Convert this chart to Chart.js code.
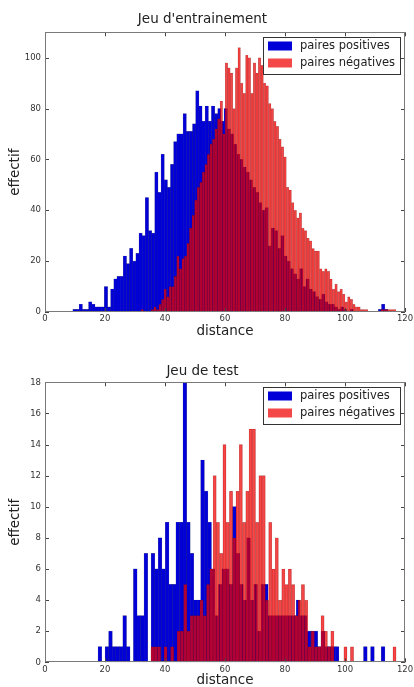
<!DOCTYPE html>
<html>
<head>
<meta charset="utf-8">
<script src="https://cdn.jsdelivr.net/npm/chart.js@4.4.1/dist/chart.umd.min.js"></script>
<style>
  html, body { margin: 0; padding: 0; background: #fff; }
  .box { position: absolute; left: 0; width: 414px; }
  #trainBox { top: 0; height: 340px; }
  #testBox { top: 340px; height: 347px; }
</style>
</head>
<body>
<div class="box" id="trainBox"><canvas id="train"></canvas></div>
<div class="box" id="testBox"><canvas id="test"></canvas></div>
<script>
// --- data (counts per bin) ---
var seriesLabels = ["paires positives", "paires négatives"];
var xTicks = [0, 20, 40, 60, 80, 100, 120];

// training set: 100 bins each
var trainPosStart = 9.3, trainPosWidth = 1.05;
var trainPosCounts = [1,1,3,1,1,4,3,2,2,2,
  10,2,9,13,14,14,22,19,25,20,
  23,31,30,45,32,31,55,47,62,52,
  49,58,67,70,70,78,71,71,74,87,
  81,75,81,75,81,78,80,75,80,72,
  70,66,62,60,57,55,52,49,47,43,
  40,41,26,33,32,25,30,22,20,17,
  15,13,17,10,13,9,8,6,5,7,
  4,3,3,2,1,2,1,0,1,0,
  0,0,0,0,0,0,0,1,3,1];
var trainNegStart = 32.0, trainNegWidth = 0.85;
var trainNegCounts = [1,0,0,0,1,2,1,3,5,9,
  6,10,10,14,22,17,21,22,27,33,
  38,44,49,51,55,58,62,66,68,72,
  76,83,70,98,96,94,80,96,104,90,
  86,101,100,86,98,94,100,97,90,89,
  82,80,75,73,68,65,61,49,48,43,
  40,37,39,33,32,29,28,25,24,24,
  17,16,17,16,13,9,11,8,9,7,
  4,6,5,3,2,2,1,1,1,0,
  0,0,0,0,1,1,1,1,1,1];

// test set
var testPosStart = 17.7, testPosWidth = 1.18;
var testPosCounts = [1,0,1,2,1,1,1,3,1,0,
  6,3,3,7,0,7,6,8,6,9,
  5,5,9,9,18,9,7,4,4,13,
  11,9,6,3,5,6,6,5,10,7,
  5,4,8,4,5,2,5,5,3,3,
  3,3,3,3,3,3,4,3,3,2,
  2,2,1,2,1,1,1,1,0,0,
  0,0,0,0,0,1,0,1,0,0,
  1,0];
var testNegStart = 35.3, testNegWidth = 1.09;
var testNegCounts = [1,1,1,0,1,0,1,0,2,2,
  5,2,3,3,3,4,3,5,6,12,
  9,7,14,9,11,8,11,14,9,11,
  15,15,9,12,12,4,9,6,8,4,
  6,5,6,5,3,4,5,4,1,2,
  1,1,3,2,1,2,0,0,0,1,
  0,1,0,0,0,0,0,0,0,0,
  0,0,0,0,1];

Chart.defaults.font.family = '"DejaVu Sans", sans-serif';
Chart.defaults.color = '#333';

function binPoints(start, width, counts) {
  return counts.map(function (c, i) {
    return { x: start + width * (i + 0.5), y: c };
  });
}

// matplotlib-like frame, inward ticks and boxed legend
var framePlugin = {
  id: 'frame',
  afterDatasetsDraw: function (chart) {
    var ctx = chart.ctx, a = chart.chartArea;
    var xs = chart.scales.x, ys = chart.scales.y;
    ctx.save();
    ctx.strokeStyle = '#444';
    ctx.lineWidth = 1;
    ctx.beginPath();
    xs.ticks.forEach(function (t) {
      var px = Math.round(xs.getPixelForValue(t.value)) + 0.5;
      ctx.moveTo(px, a.bottom); ctx.lineTo(px, a.bottom - 4);
      ctx.moveTo(px, a.top); ctx.lineTo(px, a.top + 4);
    });
    ys.ticks.forEach(function (t) {
      var py = Math.round(ys.getPixelForValue(t.value)) + 0.5;
      ctx.moveTo(a.left, py); ctx.lineTo(a.left + 4, py);
      ctx.moveTo(a.right, py); ctx.lineTo(a.right - 4, py);
    });
    ctx.stroke();
    ctx.strokeStyle = '#7a7a7a';
    ctx.strokeRect(Math.round(a.left) + 0.5, Math.round(a.top) + 0.5,
      Math.round(a.right - a.left) - 1, Math.round(a.bottom - a.top) - 1);

    // legend
    var sets = chart.data.datasets;
    ctx.font = '11.5px "DejaVu Sans"';
    var tw = 0;
    sets.forEach(function (d) { tw = Math.max(tw, ctx.measureText(d.label).width); });
    var w = Math.round(37 + tw + 5), h = 37;
    var bx = Math.round(a.right - 5 - w), by = Math.round(a.top + 5);
    ctx.fillStyle = '#fff';
    ctx.fillRect(bx, by, w, h);
    ctx.strokeStyle = '#333';
    ctx.strokeRect(bx + 0.5, by + 0.5, w, h);
    ctx.textBaseline = 'middle';
    sets.forEach(function (d, i) {
      var cy = by + 9 + i * 17;
      ctx.fillStyle = d.backgroundColor;
      ctx.fillRect(bx + 5, cy - 4.5, 24, 9);
      ctx.fillStyle = '#222';
      ctx.fillText(d.label, bx + 37, cy);
    });
    ctx.restore();
  }
};

function makeHist(id, title, yMax, yStep, pos, neg, titlePad, xAxisH, xTitleBottom) {
  return new Chart(id, {
    type: 'bar',
    data: {
      datasets: [{
        label: seriesLabels[0],
        data: pos,
        backgroundColor: 'rgb(0,0,215)',
        borderColor: 'rgba(0,0,90,0.6)',
        borderWidth: 0.4,
        inflateAmount: 0.4,
        stack: 'hist',
        order: 1
      }, {
        label: seriesLabels[1],
        data: neg,
        backgroundColor: 'rgba(240,0,0,0.72)',
        borderColor: 'rgba(90,0,0,0.4)',
        borderWidth: 0.4,
        inflateAmount: 0.3,
        stack: 'hist',
        order: 0
      }]
    },
    options: {
      responsive: true,
      maintainAspectRatio: false,
      animation: false,
      events: [],
      layout: { padding: { left: 0, right: 9, top: 0, bottom: 0 } },
      datasets: {
        bar: {
          barThickness: 'flex',
          barPercentage: 1,
          categoryPercentage: 1,
          borderSkipped: 'start'
        }
      },
      plugins: {
        legend: { display: false },
        tooltip: { enabled: false },
        title: {
          display: true,
          text: title,
          color: '#222',
          font: { size: 13.5, weight: 'normal' },
          padding: titlePad
        }
      },
      scales: {
        x: {
          type: 'linear',
          min: 0,
          max: 120,
          offset: false,
          grid: { display: false, drawTicks: false, offset: false },
          border: { display: false },
          afterBuildTicks: function (s) {
            s.ticks = xTicks.map(function (v) { return { value: v }; });
          },
          ticks: { font: { size: 8.5 }, color: '#333', padding: 2, maxRotation: 0 },
          title: {
            display: true, text: 'distance', color: '#222',
            font: { size: 13.5 }, padding: { top: 0, bottom: xTitleBottom }
          },
          afterFit: function (s) {
            s.height = xAxisH;
            s.paddingLeft = 0; s.paddingRight = 0;
          }
        },
        y: {
          min: 0,
          max: yMax,
          stacked: false,
          grid: { display: false, drawTicks: false },
          border: { display: false },
          ticks: { stepSize: yStep, includeBounds: false, font: { size: 8.5 }, color: '#333', padding: 4 },
          title: {
            display: true, text: 'effectif', color: '#222',
            font: { size: 13.5 }, padding: { top: 7.6, bottom: 0 }
          },
          afterFit: function (s) {
            s.width = 45;
            s.paddingTop = 0; s.paddingBottom = 0;
          }
        }
      }
    },
    plugins: [framePlugin]
  });
}

makeHist('train', "Jeu d'entrainement", 110, 20,
  binPoints(trainPosStart, trainPosWidth, trainPosCounts),
  binPoints(trainNegStart, trainNegWidth, trainNegCounts),
  { top: 11, bottom: 5.1 }, 28, 0);

makeHist('test', 'Jeu de test', 18, 2,
  binPoints(testPosStart, testPosWidth, testPosCounts),
  binPoints(testNegStart, testNegWidth, testNegCounts),
  { top: 22.9, bottom: 3.2 }, 24.7, -2);
</script>
</body>
</html>
